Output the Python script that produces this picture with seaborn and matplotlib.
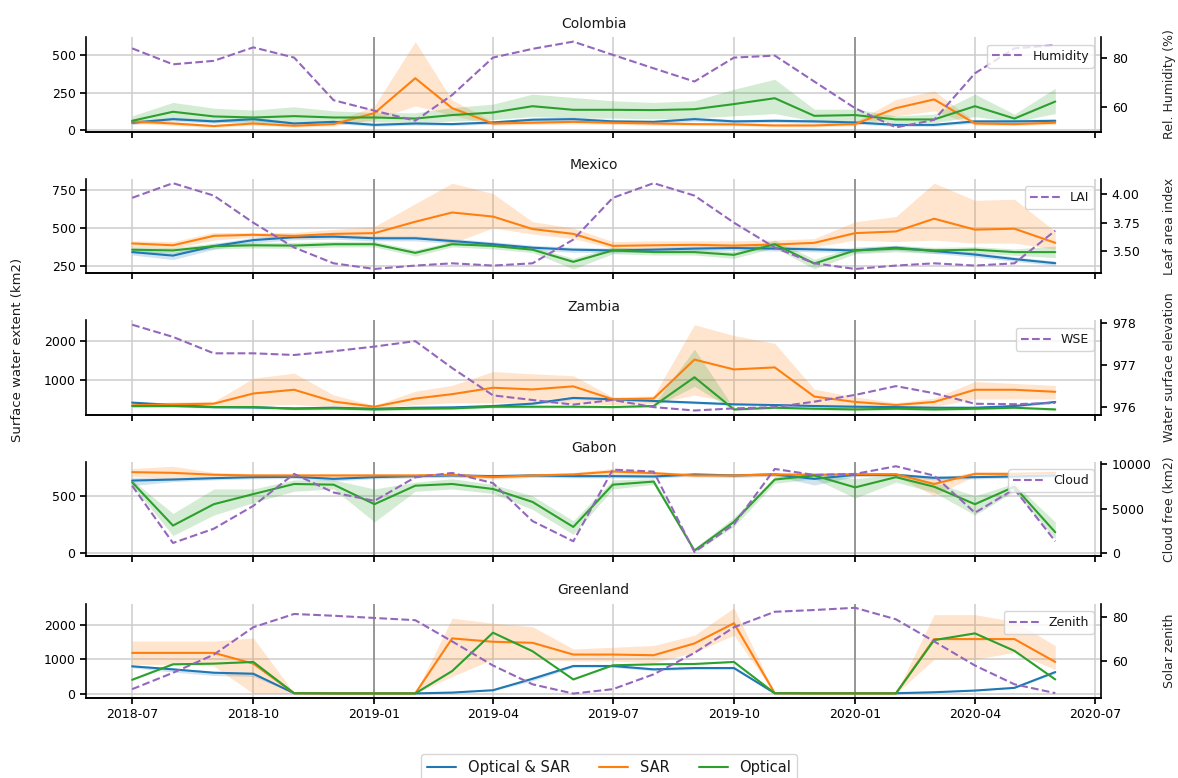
import matplotlib
matplotlib.use("Agg")
import matplotlib.pyplot as plt
import matplotlib.dates as mdates
from matplotlib.lines import Line2D
import pandas as pd
import seaborn as sns

# ---------------------------------------------------------------- data
MONTHS = pd.date_range("2018-07-01", periods=24, freq="MS")
SERIES = ["Optical & SAR", "SAR", "Optical"]
COUNTRIES = ["Colombia", "Mexico", "Zambia", "Gabon", "Greenland"]

# Colombia
colombia_both = [49, 73, 58, 73, 44, 55, 35, 44, 40, 51, 69, 73, 58, 55, 73, 58, 62, 58, 51, 35, 35, 58, 58, 62]
colombia_both_lo = [38, 60, 46, 60, 33, 44, 25, 33, 30, 40, 56, 60, 46, 44, 60, 46, 50, 46, 40, 25, 25, 46, 46, 50]
colombia_both_hi = [60, 86, 70, 86, 55, 66, 45, 55, 50, 62, 82, 86, 70, 66, 86, 70, 74, 70, 62, 45, 45, 70, 70, 74]
colombia_sar = [58, 44, 27, 44, 29, 40, 113, 345, 146, 44, 49, 55, 49, 44, 40, 38, 31, 31, 40, 146, 204, 44, 40, 49]
colombia_sar_lo = [45, 32, 18, 32, 20, 28, 70, 161, 100, 32, 38, 42, 38, 32, 30, 28, 22, 22, 28, 95, 128, 32, 30, 38]
colombia_sar_hi = [75, 58, 38, 58, 40, 55, 160, 588, 200, 58, 62, 68, 62, 58, 52, 50, 42, 42, 55, 204, 261, 58, 52, 62]
colombia_opt = [62, 122, 91, 84, 93, 84, 84, 77, 100, 117, 159, 135, 135, 133, 139, 173, 212, 95, 100, 71, 71, 159, 77, 190]
colombia_opt_lo = [40, 70, 55, 50, 50, 50, 55, 50, 60, 70, 90, 80, 80, 75, 80, 95, 110, 60, 65, 50, 50, 90, 55, 110]
colombia_opt_hi = [95, 184, 146, 133, 155, 128, 117, 115, 150, 173, 239, 217, 195, 184, 195, 272, 338, 139, 139, 95, 106, 239, 106, 279]
colombia_humidity = [83.7, 77.3, 78.7, 84.1, 80.0, 62.9, 58.7, 54.7, 65.0, 80.0, 83.5, 86.4,
                     81.1, 75.7, 70.4, 80.0, 80.8, 70.4, 59.7, 52.0, 55.0, 73.7, 83.7, 85.0]

# Mexico
mexico_both = [341, 318, 380, 420, 439, 443, 432, 432, 414, 393, 370, 357, 352, 357, 364, 368, 364, 359, 352, 370, 348, 325, 295, 268]
mexico_both_lo = [322, 292, 360, 402, 422, 426, 415, 415, 397, 376, 353, 340, 336, 341, 348, 352, 348, 343, 336, 354, 332, 309, 280, 254]
mexico_both_hi = [358, 340, 398, 437, 455, 459, 448, 448, 430, 409, 386, 373, 368, 373, 380, 384, 380, 375, 368, 386, 364, 341, 310, 282]
mexico_sar = [398, 386, 448, 455, 448, 461, 466, 541, 602, 575, 493, 461, 382, 386, 389, 384, 391, 402, 466, 477, 561, 489, 495, 402]
mexico_sar_lo = [375, 365, 420, 440, 430, 440, 440, 440, 400, 500, 460, 430, 365, 365, 370, 365, 370, 375, 420, 410, 420, 400, 400, 360]
mexico_sar_hi = [415, 410, 470, 470, 470, 490, 510, 660, 795, 727, 541, 500, 410, 415, 415, 415, 420, 430, 541, 575, 795, 682, 689, 477]
mexico_opt = [357, 352, 380, 386, 384, 393, 393, 336, 393, 382, 357, 277, 352, 341, 341, 323, 393, 266, 352, 364, 352, 357, 341, 341]
mexico_opt_lo = [340, 335, 362, 368, 366, 375, 375, 315, 375, 362, 338, 230, 330, 322, 322, 300, 370, 230, 330, 343, 332, 337, 320, 305]
mexico_opt_hi = [375, 370, 400, 405, 405, 412, 412, 356, 412, 400, 375, 300, 375, 360, 360, 345, 420, 295, 375, 385, 372, 377, 362, 380]
mexico_lai = [3.97, 4.10, 3.99, 3.75, 3.53, 3.39, 3.34, 3.37, 3.39, 3.37, 3.39, 3.60,
              3.97, 4.10, 3.99, 3.75, 3.53, 3.39, 3.34, 3.37, 3.39, 3.37, 3.39, 3.68]

# Zambia
zambia_both = [404, 342, 289, 281, 254, 272, 246, 272, 281, 316, 377, 526, 491, 447, 404, 360, 342, 316, 298, 289, 272, 272, 316, 421]
zambia_both_lo = [374, 312, 259, 251, 224, 242, 216, 242, 251, 286, 347, 490, 460, 417, 374, 330, 312, 286, 268, 259, 242, 242, 286, 391]
zambia_both_hi = [434, 372, 319, 311, 284, 302, 276, 302, 311, 346, 407, 562, 522, 477, 434, 390, 372, 346, 328, 319, 302, 302, 346, 451]
zambia_sar = [333, 360, 377, 640, 737, 430, 298, 509, 623, 789, 746, 825, 491, 509, 1518, 1263, 1316, 561, 421, 342, 421, 737, 737, 684]
zambia_sar_lo = [280, 300, 300, 330, 360, 280, 250, 350, 400, 400, 380, 380, 350, 380, 600, 400, 400, 300, 250, 250, 300, 500, 500, 500]
zambia_sar_hi = [370, 420, 430, 1035, 1167, 600, 330, 700, 850, 1210, 1150, 1100, 550, 580, 2421, 2140, 1939, 754, 550, 400, 520, 950, 900, 850]
zambia_opt = [316, 316, 289, 289, 246, 254, 228, 246, 254, 298, 298, 298, 289, 316, 1061, 228, 272, 246, 228, 246, 228, 246, 272, 228]
zambia_opt_lo = [285, 285, 260, 260, 215, 225, 200, 215, 225, 265, 265, 265, 260, 285, 825, 200, 245, 215, 200, 215, 200, 215, 245, 200]
zambia_opt_hi = [350, 350, 320, 320, 280, 290, 260, 280, 290, 330, 330, 330, 320, 350, 1789, 260, 300, 280, 260, 280, 260, 280, 300, 260]
zambia_wse = [977.96, 977.67, 977.28, 977.28, 977.24, 977.33, 977.44, 977.57, 976.93, 976.28, 976.17, 976.06,
              976.17, 976.00, 975.92, 975.97, 976.00, 976.13, 976.29, 976.50, 976.33, 976.08, 976.07, 976.10]

# Gabon
gabon_both = [634, 643, 655, 664, 667, 649, 664, 673, 679, 673, 679, 673, 673, 670, 688, 679, 688, 649, 684, 684, 658, 664, 670, 679]
gabon_both_lo = [590, 625, 640, 650, 652, 630, 650, 658, 664, 658, 664, 658, 658, 655, 673, 664, 673, 595, 669, 669, 640, 649, 655, 664]
gabon_both_hi = [660, 660, 670, 678, 682, 665, 678, 688, 694, 688, 694, 688, 688, 685, 703, 694, 703, 665, 699, 699, 675, 679, 685, 694]
gabon_sar = [708, 702, 685, 679, 679, 679, 679, 679, 685, 664, 679, 688, 714, 699, 679, 679, 688, 685, 690, 690, 604, 693, 693, 702]
gabon_sar_lo = [670, 650, 665, 663, 663, 663, 663, 663, 668, 645, 663, 670, 690, 683, 663, 663, 670, 668, 675, 675, 500, 676, 676, 685]
gabon_sar_hi = [740, 760, 705, 695, 695, 695, 695, 695, 700, 680, 695, 705, 740, 715, 695, 695, 705, 700, 705, 705, 650, 710, 710, 720]
gabon_opt = [619, 238, 426, 515, 604, 598, 426, 589, 604, 560, 446, 226, 598, 625, 18, 271, 643, 679, 574, 664, 580, 426, 580, 179]
gabon_opt_lo = [590, 150, 330, 440, 540, 560, 270, 540, 560, 520, 380, 160, 560, 600, 5, 230, 610, 650, 480, 620, 530, 330, 540, 120]
gabon_opt_hi = [640, 345, 560, 560, 640, 640, 560, 620, 650, 600, 500, 280, 640, 650, 40, 310, 670, 700, 650, 690, 620, 500, 610, 270]
gabon_cloud = [7600, 1170, 2770, 5340, 8930, 6840, 5900, 8550, 9040, 7900, 3630, 1360,
               9410, 9190, 150, 3260, 9490, 8810, 8930, 9790, 8740, 4570, 7220, 1360]

# Greenland
greenland_both = [794, 706, 608, 578, 10, 5, 5, 5, 29, 98, 431, 804, 804, 706, 745, 745, 10, 10, 10, 10, 39, 88, 167, 627]
greenland_both_lo = [754, 626, 528, 498, 5, 0, 0, 0, 20, 80, 371, 764, 764, 666, 705, 705, 5, 5, 5, 5, 30, 75, 150, 590]
greenland_both_hi = [834, 746, 648, 618, 15, 10, 10, 10, 38, 116, 491, 844, 844, 746, 785, 785, 15, 15, 15, 15, 48, 101, 184, 664]
greenland_sar = [1186, 1186, 1186, 873, 10, 5, 5, 5, 1608, 1510, 1480, 1137, 1137, 1118, 1461, 2050, 10, 5, 5, 5, 1588, 1588, 1588, 922]
greenland_sar_lo = [850, 850, 800, 0, 5, 0, 0, 0, 500, 1000, 1000, 950, 950, 900, 1200, 1700, 5, 0, 0, 0, 1000, 1000, 1200, 700]
greenland_sar_hi = [1530, 1530, 1530, 1620, 15, 10, 10, 10, 2200, 2050, 1950, 1300, 1350, 1400, 1700, 2500, 15, 10, 10, 10, 2300, 2300, 2100, 1400]
greenland_opt = [402, 853, 873, 922, 10, 5, 5, 5, 657, 1775, 1235, 412, 824, 853, 863, 922, 10, 5, 5, 5, 1559, 1755, 1245, 412]
greenland_opt_lo = [387, 838, 858, 907, 5, 0, 0, 0, 642, 1760, 1220, 397, 809, 838, 848, 907, 5, 0, 0, 0, 1544, 1740, 1230, 397]
greenland_opt_hi = [417, 868, 888, 937, 15, 10, 10, 10, 672, 1790, 1250, 427, 839, 868, 878, 937, 15, 10, 10, 10, 1574, 1770, 1260, 427]
greenland_zenith = [47.2, 54.6, 62.8, 75.2, 81.2, 80.4, 79.4, 78.4, 68.8, 57.9, 49.4, 45.2,
                    47.2, 53.9, 63.6, 75.2, 82.2, 83.0, 84.0, 78.8, 68.8, 57.9, 49.4, 45.4]

# auxiliary variable per country: legend name, axis label, ticks
AUX_NAMES = ["Humidity", "LAI", "WSE", "Cloud", "Zenith"]
AUX_LABELS = ["Rel. Humidity (%)", "Leaf area index", "Water surface elevation", "Cloud free (km2)", "Solar zenith"]
AUX_TICKS = [[60, 80], [3.50, 3.75, 4.00], [976, 977, 978], [0, 5000, 10000], [60, 80]]
AUX_VALUES = [colombia_humidity, mexico_lai, zambia_wse, gabon_cloud, greenland_zenith]
EXTENT_TICKS = [[0, 250, 500], [250, 500, 750], [1000, 2000], [0, 500], [0, 1000, 2000]]

EXTENT = {
    "Colombia": [(colombia_both, colombia_both_lo, colombia_both_hi),
                 (colombia_sar, colombia_sar_lo, colombia_sar_hi),
                 (colombia_opt, colombia_opt_lo, colombia_opt_hi)],
    "Mexico": [(mexico_both, mexico_both_lo, mexico_both_hi),
               (mexico_sar, mexico_sar_lo, mexico_sar_hi),
               (mexico_opt, mexico_opt_lo, mexico_opt_hi)],
    "Zambia": [(zambia_both, zambia_both_lo, zambia_both_hi),
               (zambia_sar, zambia_sar_lo, zambia_sar_hi),
               (zambia_opt, zambia_opt_lo, zambia_opt_hi)],
    "Gabon": [(gabon_both, gabon_both_lo, gabon_both_hi),
              (gabon_sar, gabon_sar_lo, gabon_sar_hi),
              (gabon_opt, gabon_opt_lo, gabon_opt_hi)],
    "Greenland": [(greenland_both, greenland_both_lo, greenland_both_hi),
                  (greenland_sar, greenland_sar_lo, greenland_sar_hi),
                  (greenland_opt, greenland_opt_lo, greenland_opt_hi)],
}

COLORS = ["#1f77b4", "#ff7f0e", "#2ca02c"]
PURPLE = "#9467bd"

# long-form table of water extent
rows = []
for country in COUNTRIES:
    for name, (mean, lo, hi) in zip(SERIES, EXTENT[country]):
        for d, m, l, h in zip(MONTHS, mean, lo, hi):
            rows.append({"country": country, "series": name, "date": d,
                         "extent": m, "lo": l, "hi": h})
df = pd.DataFrame(rows)

# ---------------------------------------------------------------- style
sns.set_theme(style="ticks")
plt.rcParams.update({
    "font.family": ["DejaVu Sans"],
    "axes.edgecolor": "black",
    "axes.linewidth": 1.2,
    "xtick.labelsize": 9,
    "ytick.labelsize": 9,
    "xtick.major.size": 4,
    "ytick.major.size": 4,
    "xtick.color": "black",
    "ytick.color": "black",
    "text.color": "#1a1a1a",
})

fig, axes = plt.subplots(5, 1, sharex=True, figsize=(11.78, 7.78), dpi=100)
fig.subplots_adjust(left=0.073, right=0.935, top=0.952, bottom=0.103, hspace=0.5)

for i, (ax, country) in enumerate(zip(axes, COUNTRIES)):
    sub = df[df["country"] == country]
    sns.lineplot(data=sub, x="date", y="extent", hue="series", hue_order=SERIES,
                 palette=COLORS, errorbar=None, legend=False, linewidth=1.5, ax=ax)
    for name, color in zip(SERIES, COLORS):
        s = sub[sub["series"] == name]
        ax.fill_between(s["date"], s["lo"], s["hi"], color=color, alpha=0.2, linewidth=0)

    ax.set_axisbelow(True)
    ax.grid(True, color="#cdcdcd", linewidth=1.1)
    for year in ["2019-01-01", "2020-01-01"]:
        ax.axvline(pd.Timestamp(year), color="#8c8c8c", linewidth=1.2, zorder=0.6)
    ax.set_yticks(EXTENT_TICKS[i])
    ax.set_title(country, fontsize=10, pad=7)
    ax.set_xlabel("")
    ax.set_ylabel("")
    ax.spines["top"].set_visible(False)
    ax.spines["right"].set_visible(False)

    ax2 = ax.twinx()
    sns.lineplot(x=MONTHS, y=AUX_VALUES[i], ax=ax2, color=PURPLE, linestyle="--",
                 linewidth=1.5, label=AUX_NAMES[i])
    ax2.set_yticks(AUX_TICKS[i])
    if i == 1:
        ax2.yaxis.set_major_formatter(matplotlib.ticker.FormatStrFormatter("%.2f"))
    ax2.grid(False)
    ax2.spines["top"].set_visible(False)
    ax2.spines["left"].set_visible(False)
    ax2.set_ylabel(AUX_LABELS[i], fontsize=9)
    ax2.yaxis.set_label_coords(1.061, 0.5)
    ax2.legend(loc="upper right", fontsize=9, handlelength=2.4, borderaxespad=0.6)

axes[-1].xaxis.set_major_locator(mdates.MonthLocator(bymonth=[1, 4, 7, 10]))
axes[-1].xaxis.set_major_formatter(mdates.DateFormatter("%Y-%m"))

fig.text(0.015, 0.55, "Surface water extent (km2)", rotation=90,
         va="center", ha="center", fontsize=9.5)

handles = [Line2D([], [], color=c, linewidth=1.5) for c in COLORS]
fig.legend(handles, SERIES, loc="center", bbox_to_anchor=(0.517, 0.014),
           ncol=3, fontsize=10.5, frameon=True)

fig.savefig("out.png", dpi=100)
